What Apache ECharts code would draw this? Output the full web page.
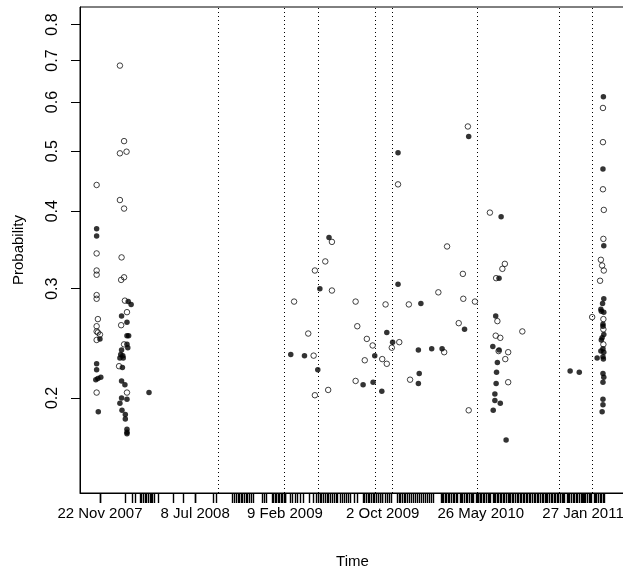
<!DOCTYPE html>
<html>
<head>
<meta charset="utf-8">
<script src="https://cdn.jsdelivr.net/npm/echarts@6/dist/echarts.min.js"></script>
<style>
html, body { margin: 0; padding: 0; background: #fff; }
#chart { width: 623px; height: 567px; }
</style>
</head>
<body>
<div id="chart"></div>
<script>
var DAY = 86400000;
var origin = Date.UTC(2007, 10, 22);

// points are [days since 22 Nov 2007, probability]
var solidPoints = [
    [-8, 0.375], [-8, 0.365], [0, 0.249], [-8, 0.227], [-8, 0.222], [-10, 0.214], [-5, 0.215], [2, 0.216], [-4, 0.190],
    [68, 0.286], [75, 0.283], [52, 0.271], [65, 0.265], [65, 0.252], [69, 0.252], [65, 0.244], [67, 0.241],
    [52, 0.239], [50, 0.235], [55, 0.234], [48, 0.232], [56, 0.232], [54, 0.224], [52, 0.213], [60, 0.210],
    [52, 0.200], [65, 0.199], [48, 0.196], [53, 0.191], [61, 0.188], [61, 0.185], [65, 0.178], [65, 0.176], [65, 0.175],
    [118, 0.204],
    [459, 0.235], [492, 0.234], [524, 0.222], [529, 0.300], [551, 0.363], [633, 0.210], [657, 0.212], [661, 0.234],
    [678, 0.205], [690, 0.255], [704, 0.246], [717, 0.305], [717, 0.497], [766, 0.239], [766, 0.211], [768, 0.219],
    [772, 0.284], [798, 0.240], [823, 0.240], [877, 0.258], [887, 0.528], [945, 0.242], [946, 0.191], [950, 0.203],
    [950, 0.198], [952, 0.271], [953, 0.211], [954, 0.220], [956, 0.228], [960, 0.312], [960, 0.239], [963, 0.196],
    [965, 0.392], [977, 0.171],
    [1131, 0.221], [1153, 0.220], [1196, 0.232],
    [1211, 0.612], [1210, 0.468], [1212, 0.352], [1212, 0.289], [1209, 0.284], [1205, 0.278], [1206, 0.276],
    [1212, 0.275], [1210, 0.263], [1210, 0.261], [1212, 0.253], [1208, 0.250], [1206, 0.248], [1210, 0.240],
    [1205, 0.238], [1212, 0.237], [1210, 0.233], [1211, 0.231], [1210, 0.219], [1212, 0.216], [1210, 0.212],
    [1210, 0.199], [1210, 0.195], [1208, 0.190]
];

var hollowPoints = [
    [-8, 0.441], [-8, 0.342], [-8, 0.321], [-8, 0.316], [-8, 0.293], [-8, 0.289], [-5, 0.268], [-8, 0.261],
    [-8, 0.256], [-5, 0.255], [0, 0.253], [-8, 0.248], [-8, 0.204],
    [48, 0.687], [58, 0.519], [48, 0.496], [64, 0.499], [48, 0.417], [58, 0.404], [52, 0.337], [58, 0.313],
    [51, 0.310], [60, 0.287], [65, 0.275], [51, 0.262], [58, 0.244], [46, 0.225], [65, 0.204],
    [467, 0.286], [501, 0.254], [514, 0.234], [517, 0.321], [517, 0.202], [542, 0.332], [549, 0.206], [558, 0.357],
    [558, 0.298], [615, 0.286], [615, 0.213], [619, 0.261], [637, 0.230], [642, 0.249], [656, 0.243], [679, 0.231],
    [687, 0.283], [690, 0.227], [702, 0.241], [717, 0.442], [720, 0.246], [743, 0.283], [746, 0.214], [814, 0.296],
    [828, 0.237], [835, 0.351], [863, 0.264], [873, 0.317], [874, 0.289], [885, 0.548], [887, 0.191], [902, 0.286],
    [938, 0.398], [952, 0.252], [953, 0.312], [956, 0.266], [959, 0.238], [963, 0.250], [968, 0.323], [974, 0.329],
    [975, 0.231], [982, 0.237], [982, 0.212], [1016, 0.256],
    [1184, 0.270], [1203, 0.309], [1205, 0.334], [1208, 0.327], [1210, 0.587], [1210, 0.517], [1210, 0.434],
    [1211, 0.361], [1211, 0.268], [1211, 0.258], [1211, 0.244], [1212, 0.402], [1212, 0.321]
];

// dotted vertical reference lines (days)
var eventDays = [284, 443, 524, 662, 702, 907, 1104, 1184];

// rug of observation times (days)
var rugDays = [
    0, 60, 77, 84, 96, 100, 103, 108, 112, 115, 120, 124, 127, 131, 140, 176, 200, 229, 272, 279,
    318, 322, 327, 332, 334, 339, 342, 346, 351, 354, 358, 363, 368, 390, 395, 399, 414, 416, 421, 423,
    428, 431, 435, 438, 443, 445, 457, 462, 469, 474, 481, 488, 503, 512, 520, 524, 529, 532, 536, 541,
    546, 548, 553, 558, 563, 568, 572, 577, 582, 587, 592, 597, 601, 611, 618, 633, 635, 640, 645, 647,
    652, 657, 659, 664, 669, 674, 678, 686, 690, 695, 700, 714, 719, 722, 726, 731, 734, 739, 743, 748,
    753, 758, 763, 767, 772, 777, 782, 787, 791, 796, 801, 820, 823, 825, 830, 833, 838, 840, 846, 849,
    853, 858, 860, 866, 869, 872, 877, 881, 884, 888, 893, 896, 899, 904, 907, 911, 915, 918, 923, 925,
    930, 934, 937, 940, 945, 948, 951, 955, 959, 962, 966, 970, 972, 977, 981, 985, 988, 992, 995, 1000,
    1003, 1006, 1011, 1014, 1018, 1021, 1026, 1029, 1033, 1036, 1041, 1044, 1047, 1052, 1055, 1059, 1063,
    1066, 1070, 1074, 1077, 1081, 1085, 1089, 1092, 1096, 1100, 1103, 1108, 1111, 1115, 1118, 1123, 1126,
    1130, 1133, 1138, 1141, 1145, 1148, 1153, 1157, 1160, 1165, 1168, 1172, 1176, 1180, 1183, 1188, 1192,
    1195, 1199, 1203, 1206, 1210, 1213
];

var dateLabels = ['2007-11-22', '2008-07-08', '2009-02-09', '2009-10-02', '2010-05-26', '2011-01-27'];
var probTicks = [0.2, 0.3, 0.4, 0.5, 0.6, 0.7, 0.8];
var monthNames = ['Jan', 'Feb', 'Mar', 'Apr', 'May', 'Jun', 'Jul', 'Aug', 'Sep', 'Oct', 'Nov', 'Dec'];

function toTime(d) {
    return origin + d * DAY;
}

function toSeries(points) {
    var out = [];
    for (var i = 0; i < points.length; i++) {
        out.push([toTime(points[i][0]), points[i][1]]);
    }
    return out;
}

var labelTimes = dateLabels.map(function (s) { return Date.parse(s); });
var tickTimes = rugDays.map(toTime).concat(labelTimes);

var font = '"Liberation Sans", Arial, sans-serif';

var chart = echarts.init(document.getElementById('chart'));

var option = {
    animation: false,
    backgroundColor: '#fff',
    grid: {
        left: 80,
        top: 7,
        width: 545,
        height: 486,
        outerBoundsMode: 'none',
        show: true,
        borderColor: '#000',
        borderWidth: 1
    },
    xAxis: {
        // timestamps on a plain value axis
        type: 'value',
        min: toTime(-48),
        max: toTime(1263),
        name: 'Time',
        nameLocation: 'middle',
        nameGap: 61,
        nameTextStyle: { fontFamily: font, fontSize: 15, color: '#000' },
        axisLine: { show: true, lineStyle: { color: '#000', width: 1 } },
        axisTick: {
            show: true,
            inside: false,
            length: 10,
            customValues: tickTimes,
            lineStyle: { color: '#000', width: 1.4 }
        },
        axisLabel: {
            customValues: labelTimes,
            margin: 13,
            fontFamily: font,
            fontSize: 15,
            color: '#000',
            formatter: function (v) {
                var dt = new Date(v);
                return dt.getUTCDate() + ' ' + monthNames[dt.getUTCMonth()] + ' ' + dt.getUTCFullYear();
            }
        },
        splitLine: { show: false }
    },
    yAxis: {
        type: 'log',
        min: 0.1405,
        max: 0.854,
        name: 'Probability',
        nameLocation: 'middle',
        nameGap: 54,
        nameTextStyle: { fontFamily: font, fontSize: 15, color: '#000' },
        axisLine: { show: true, lineStyle: { color: '#000', width: 1 } },
        axisTick: {
            show: true,
            inside: false,
            length: 9,
            customValues: probTicks,
            lineStyle: { color: '#000', width: 1 }
        },
        axisLabel: {
            customValues: probTicks,
            rotate: 90,
            margin: 19,
            fontFamily: font,
            fontSize: 16,
            color: '#000',
            formatter: function (v) { return (+v).toFixed(1); }
        },
        splitLine: { show: false }
    },
    series: [
        {
            type: 'scatter',
            name: 'solid',
            data: toSeries(solidPoints),
            symbol: 'circle',
            symbolSize: 5.5,
            itemStyle: { color: '#000' },
            markLine: {
                silent: true,
                symbol: ['none', 'none'],
                label: { show: false },
                lineStyle: { color: '#000', width: 1, type: [1, 3] },
                data: eventDays.map(function (d) { return { xAxis: toTime(d) }; })
            }
        },
        {
            type: 'scatter',
            name: 'hollow',
            data: toSeries(hollowPoints),
            symbol: 'circle',
            symbolSize: 5.5,
            itemStyle: { color: 'rgba(0,0,0,0)', borderColor: '#111', borderWidth: 1 }
        }
    ]
};

chart.setOption(option);
</script>
</body>
</html>
